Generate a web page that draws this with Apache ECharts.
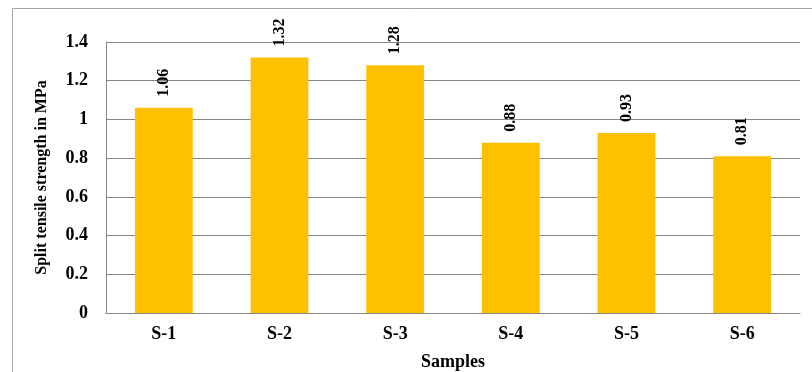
<!DOCTYPE html>
<html>
<head>
<meta charset="utf-8">
<script src="https://cdn.jsdelivr.net/npm/echarts@6/dist/echarts.min.js"></script>
<style>
  html, body { margin: 0; padding: 0; background: #fff; }
  #chart { width: 812px; height: 372px; }
</style>
</head>
<body>
<div id="chart"></div>
<script>
// Split tensile strength per sample
const categories = ['S-1', 'S-2', 'S-3', 'S-4', 'S-5', 'S-6'];
const strengthValues = [1.06, 1.32, 1.28, 0.88, 0.93, 0.81];
const yTicks = { min: 0, max: 1.4, interval: 0.2 };

const serif = '"Liberation Serif", "Times New Roman", serif';
const chart = echarts.init(document.getElementById('chart'), null, { renderer: 'canvas' });

chart.setOption({
  backgroundColor: '#ffffff',
  animation: false,
  graphic: [{
    type: 'rect',
    left: 10, top: 6,
    shape: { width: 900, height: 500 },
    style: { fill: 'none', stroke: '#a6a6a6', lineWidth: 1 },
    silent: true
  }],
  grid: { left: 106, right: 12, top: 42, bottom: 59, containLabel: false, outerBoundsMode: 'none' },
  xAxis: {
    type: 'category',
    data: categories,
    name: 'Samples',
    nameLocation: 'middle',
    nameGap: 40,
    nameTextStyle: { fontFamily: serif, fontWeight: 'bold', fontSize: 18, color: '#000' },
    axisLine: { lineStyle: { color: '#868686', width: 1 } },
    axisTick: { show: false },
    axisLabel: { fontFamily: serif, fontWeight: 'bold', fontSize: 18, color: '#000', margin: 12 }
  },
  yAxis: {
    type: 'value',
    min: yTicks.min, max: yTicks.max, interval: yTicks.interval,
    name: 'Split tensile strength in MPa',
    nameLocation: 'middle',
    nameGap: 56,
    nameTextStyle: { fontFamily: serif, fontWeight: 'bold', fontSize: 16, color: '#000' },
    axisLine: { show: true, lineStyle: { color: '#868686', width: 1 } },
    axisTick: { show: false },
    splitLine: { lineStyle: { color: '#868686', width: 1 } },
    axisLabel: {
      fontFamily: serif, fontWeight: 'bold', fontSize: 18, color: '#000', margin: 18,
      formatter: v => String(+v.toFixed(1))
    }
  },
  series: [{
    type: 'bar',
    data: strengthValues,
    barWidth: '50%',
    itemStyle: { color: '#FFC000' },
    label: {
      show: true,
      position: 'top',
      rotate: 90,
      align: 'left',
      verticalAlign: 'middle',
      distance: 11,
      fontFamily: serif,
      fontWeight: 'bold',
      fontSize: 16,
      color: '#000',
      formatter: p => p.value.toFixed(2)
    }
  }]
});
</script>
</body>
</html>
